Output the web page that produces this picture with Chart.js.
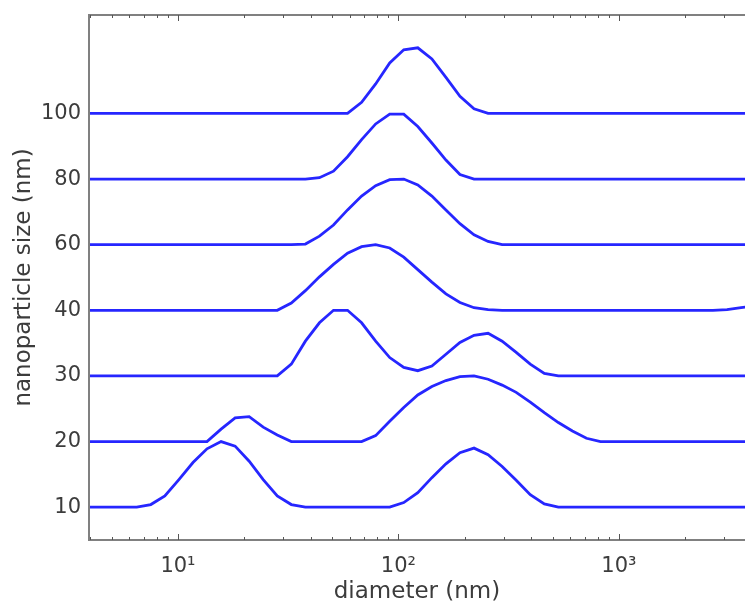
<!DOCTYPE html>
<html>
<head>
<meta charset="utf-8">
<script src="https://cdn.jsdelivr.net/npm/chart.js@4.4.0/dist/chart.umd.min.js"></script>
<style>
html, body { margin: 0; padding: 0; background: #fff; }
</style>
</head>
<body>
<canvas id="sizeChart" width="745" height="604"></canvas>
<script>
// particle size bins (nm)
const diameters = [3.615, 4.187, 4.849, 5.615, 6.503, 7.531, 8.721, 10.10, 11.70, 13.54,
    15.69, 18.17, 21.04, 24.36, 28.21, 32.67, 37.84, 43.82, 50.75, 58.77,
    68.06, 78.82, 91.28, 105.7, 122.4, 141.8, 164.2, 190.1, 220.2, 255.0,
    295.3, 342.0, 396.1, 458.7, 531.2, 615.1, 712.4, 825.0, 955.4, 1106,
    1281, 1484, 1718, 1990, 2305, 2669, 3091, 3580, 4145];

const sizeLabels = ['10', '20', '30', '40', '60', '80', '100'];

// normalised distributions, one per nominal size
const size10 = [0, 0, 0, 0, 0, 0.04, 0.17, 0.42, 0.68, 0.89,
    1.00, 0.93, 0.70, 0.42, 0.17, 0.04, 0, 0, 0, 0,
    0, 0, 0, 0.07, 0.22, 0.45, 0.66, 0.83, 0.90, 0.80,
    0.62, 0.41, 0.19, 0.05, 0, 0, 0, 0, 0, 0,
    0, 0, 0, 0, 0, 0, 0, 0, 0];
const size20 = [0, 0, 0, 0, 0, 0, 0, 0, 0, 0,
    0.19, 0.36, 0.38, 0.22, 0.10, 0, 0, 0, 0, 0,
    0, 0.09, 0.31, 0.52, 0.71, 0.84, 0.93, 0.99, 1.00, 0.95,
    0.86, 0.75, 0.60, 0.44, 0.29, 0.16, 0.05, 0, 0, 0,
    0, 0, 0, 0, 0, 0, 0, 0, 0];
const size30 = [0, 0, 0, 0, 0, 0, 0, 0, 0, 0,
    0, 0, 0, 0, 0, 0.18, 0.53, 0.81, 1.00, 1.00,
    0.81, 0.53, 0.28, 0.13, 0.08, 0.15, 0.33, 0.51, 0.62, 0.65,
    0.53, 0.36, 0.18, 0.04, 0, 0, 0, 0, 0, 0,
    0, 0, 0, 0, 0, 0, 0, 0, 0];
const size40 = [0, 0, 0, 0, 0, 0, 0, 0, 0, 0,
    0, 0, 0, 0, 0, 0.11, 0.30, 0.51, 0.70, 0.87,
    0.97, 1.00, 0.95, 0.81, 0.62, 0.43, 0.25, 0.12, 0.04, 0.01,
    0, 0, 0, 0, 0, 0, 0, 0, 0, 0,
    0, 0, 0, 0, 0, 0, 0.01, 0.04, 0.07];
const size60 = [0, 0, 0, 0, 0, 0, 0, 0, 0, 0,
    0, 0, 0, 0, 0, 0, 0.01, 0.13, 0.30, 0.53,
    0.74, 0.90, 0.99, 1.00, 0.91, 0.74, 0.53, 0.32, 0.15, 0.05,
    0, 0, 0, 0, 0, 0, 0, 0, 0, 0,
    0, 0, 0, 0, 0, 0, 0, 0, 0];
const size80 = [0, 0, 0, 0, 0, 0, 0, 0, 0, 0,
    0, 0, 0, 0, 0, 0, 0, 0.02, 0.12, 0.34,
    0.60, 0.84, 0.99, 0.99, 0.80, 0.55, 0.29, 0.07, 0, 0,
    0, 0, 0, 0, 0, 0, 0, 0, 0, 0,
    0, 0, 0, 0, 0, 0, 0, 0, 0];
const size100 = [0, 0, 0, 0, 0, 0, 0, 0, 0, 0,
    0, 0, 0, 0, 0, 0, 0, 0, 0, 0,
    0.17, 0.45, 0.77, 0.97, 1.00, 0.83, 0.55, 0.26, 0.07, 0,
    0, 0, 0, 0, 0, 0, 0, 0, 0, 0,
    0, 0, 0, 0, 0, 0, 0, 0, 0];

const series = [size10, size20, size30, size40, size60, size80, size100];
const lineColor = 'rgb(38,38,255)';
const textColor = '#3c3c3c';

// frame + inward log ticks on top and bottom, like the matlab box
const frameTicks = {
    id: 'frameTicks',
    afterDatasetsDraw: function (chart) {
        var ctx = chart.ctx;
        var a = chart.chartArea;
        var x = chart.scales.x;
        ctx.save();
        ctx.strokeStyle = '#808080';
        ctx.lineWidth = 2;
        ctx.beginPath();
        ctx.moveTo(a.right + 2, a.top);
        ctx.lineTo(a.left, a.top);
        ctx.lineTo(a.left, a.bottom);
        ctx.lineTo(a.right + 2, a.bottom);
        ctx.stroke();
        ctx.strokeStyle = '#555';
        ctx.lineWidth = 1;
        for (var p = 0; p <= 3; p++) {
            for (var m = 1; m <= 9; m++) {
                var v = m * Math.pow(10, p);
                if (v <= x.min || v >= x.max) continue;
                var px = Math.round(x.getPixelForValue(v)) + 0.5;
                var len = m === 1 ? 6 : 3;
                ctx.beginPath();
                ctx.moveTo(px, a.bottom);
                ctx.lineTo(px, a.bottom - len);
                ctx.moveTo(px, a.top);
                ctx.lineTo(px, a.top + len);
                ctx.stroke();
            }
        }
        ctx.restore();
    }
};

const datasets = series.map(function (vals, i) {
    return {
        label: sizeLabels[i] + ' nm',
        data: vals.map(function (h, j) { return {x: diameters[j], y: i + h}; }),
        borderColor: lineColor,
        borderWidth: 2.8,
        pointRadius: 0,
        tension: 0,
        fill: false
    };
});

const superDigits = {1: '\u00b9', 2: '\u00b2', 3: '\u00b3'};

new Chart(document.getElementById('sizeChart'), {
    type: 'line',
    data: {datasets: datasets},
    options: {
        responsive: false,
        animation: false,
        layout: {padding: {top: 15, right: 0, left: 0, bottom: 0}},
        plugins: {legend: {display: false}, tooltip: {enabled: false}},
        scales: {
            x: {
                type: 'logarithmic',
                min: 3.95,
                max: 3730,
                grid: {display: false, drawTicks: false},
                border: {display: false},
                afterBuildTicks: function (scale) {
                    scale.ticks = [{value: 10}, {value: 100}, {value: 1000}];
                },
                afterFit: function (scale) {
                    scale.height = 64;
                    scale.paddingLeft = 0;
                    scale.paddingRight = 0;
                },
                ticks: {
                    autoSkip: false,
                    maxRotation: 0,
                    padding: 14,
                    color: textColor,
                    font: {family: 'DejaVu Sans', size: 21},
                    callback: function (value) {
                        return '10' + superDigits[Math.round(Math.log10(value))];
                    }
                },
                title: {
                    display: true,
                    text: 'diameter (nm)',
                    color: textColor,
                    font: {family: 'DejaVu Sans', size: 23, lineHeight: 1.0},
                    padding: {top: 0, bottom: 0}
                }
            },
            y: {
                type: 'linear',
                min: -0.5,
                max: 7.5,
                grid: {display: false, drawTicks: false},
                border: {display: false},
                afterBuildTicks: function (scale) {
                    scale.ticks = sizeLabels.map(function (s, i) { return {value: i}; });
                },
                afterFit: function (scale) {
                    scale.width = 89;
                    scale.paddingTop = 0;
                    scale.paddingBottom = 0;
                },
                ticks: {
                    padding: 8,
                    color: textColor,
                    font: {family: 'DejaVu Sans', size: 21},
                    callback: function (value) { return sizeLabels[value]; }
                },
                title: {
                    display: true,
                    text: 'nanoparticle size (nm)',
                    color: textColor,
                    font: {family: 'DejaVu Sans', size: 23},
                    padding: {top: 10, bottom: 0}
                }
            }
        }
    },
    plugins: [frameTicks]
});
</script>
</body>
</html>
